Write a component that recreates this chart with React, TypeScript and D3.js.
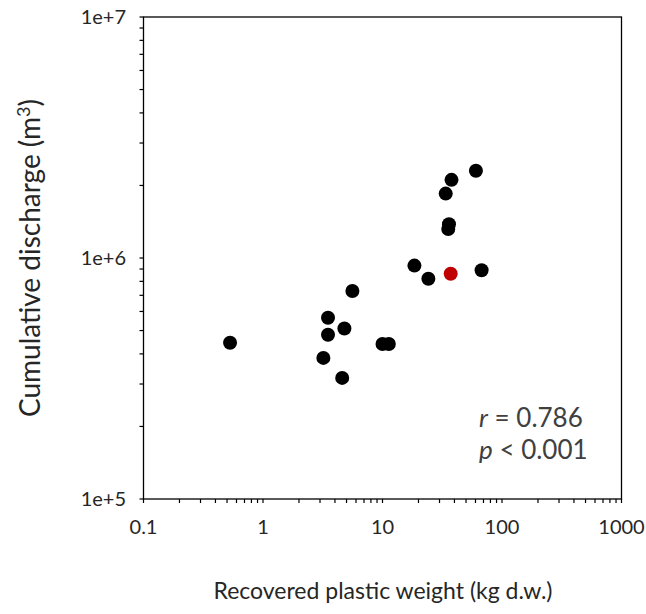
import React from "react";
import * as d3 from "d3";

// recovered plastic weight (kg d.w.) vs cumulative discharge (m3)
const weights = [0.53, 3.2, 3.5, 3.5, 4.8, 4.6, 5.6, 10.0, 11.3, 18.5, 24.2, 33.8, 37.8, 60.5, 36.0, 35.5, 67.5];
const discharges = [445000, 385000, 565000, 480000, 510000, 318000, 730000, 440000, 440000, 930000, 820000, 1850000, 2110000, 2300000, 1380000, 1320000, 890000];
const highlightWeight = [37.2];
const highlightDischarge = [860000];

const xTickLabels = ["0.1", "1", "10", "100", "1000"];
const yTickLabels = ["1e+5", "1e+6", "1e+7"];

const WIDTH = 646;
const HEIGHT = 614;
const LEFT = 143.5;
const RIGHT = 621.5;
const TOP = 17;
const BOTTOM = 499;
const FONT = "Lato, 'Noto Sans', sans-serif";

export default function App() {
	const x = d3.scaleLog().domain([0.1, 1000]).range([LEFT, RIGHT]);
	const y = d3.scaleLog().domain([1e5, 1e7]).range([BOTTOM, TOP]);

	const xTicks = x.ticks();
	const yTicks = y.ticks();

	return (
		<svg
			width={WIDTH}
			height={HEIGHT}
			style={{ position: "absolute", left: 0, top: 0, background: "#fff" }}>
			{/* frame */}
			<rect x={LEFT} y={TOP} width={RIGHT - LEFT} height={BOTTOM - TOP} fill="none" stroke="#000" strokeWidth={1.3} />

			{/* x ticks */}
			{xTicks.map((t, i) => (
				<line key={"xt" + i} x1={x(t)} x2={x(t)} y1={BOTTOM} y2={BOTTOM + 4} stroke="#000" strokeWidth={1.2} />
			))}
			{xTickLabels.map((l) => (
				<text key={"xl" + l} x={x(+l)} y={534} textAnchor="middle" fontFamily={FONT} fontSize={20} fill="#262626">
					{l}
				</text>
			))}

			{/* y ticks */}
			{yTicks.map((t, i) => (
				<line key={"yt" + i} x1={LEFT - 4} x2={LEFT} y1={y(t)} y2={y(t)} stroke="#000" strokeWidth={1.2} />
			))}
			{yTickLabels.map((l) => (
				<text key={"yl" + l} x={126} y={y(+l)} dy="0.35em" textAnchor="end" fontFamily={FONT} fontSize={20} fill="#262626">
					{l}
				</text>
			))}

			{/* points */}
			{weights.map((w, i) => (
				<circle key={"p" + i} cx={x(w)} cy={y(discharges[i])} r={7} fill="#000" />
			))}
			{highlightWeight.map((w, i) => (
				<circle key={"h" + i} cx={x(w)} cy={y(highlightDischarge[i])} r={7} fill="#c00000" />
			))}

			{/* annotation */}
			<text x={479} y={427} fontFamily={FONT} fontSize={26} fill="#404040">
				<tspan fontStyle="italic">r</tspan> = 0.786
			</text>
			<text x={479} y={459} fontFamily={FONT} fontSize={26} fill="#404040">
				<tspan fontStyle="italic">p</tspan> &lt; 0.001
			</text>

			{/* axis titles */}
			<text
				transform={`translate(40, ${(TOP + BOTTOM) / 2}) rotate(-90)`}
				textAnchor="middle"
				fontFamily={FONT}
				fontSize={28}
				fill="#262626">
				Cumulative discharge (m<tspan dy="-10" fontSize={18}>3</tspan>
				<tspan dy="10">)</tspan>
			</text>
			<text x={383} y={599} textAnchor="middle" fontFamily={FONT} fontSize={23} fill="#262626">
				Recovered plastic weight (kg d.w.)
			</text>
		</svg>
	);
}
